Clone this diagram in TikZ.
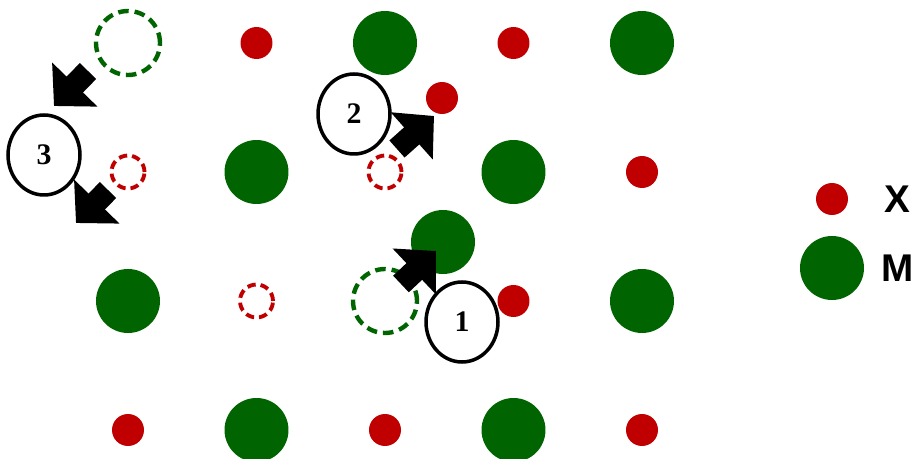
\documentclass[tikz,border=0pt]{standalone}
\usepackage{fontspec}
\setmainfont{Liberation Serif}
\newfontfamily\legendfont{Liberation Sans}
\usetikzlibrary{shapes.geometric,arrows.meta}
\definecolor{AtomGreen}{RGB}{0,100,0}
\definecolor{AtomRed}{RGB}{192,0,0}
\tikzset{
    M/.style={circle, fill=AtomGreen, minimum size=1.28cm, inner sep=0pt},
    X/.style={circle, fill=AtomRed, minimum size=0.64cm, inner sep=0pt},
    Mvac/.style={circle, draw=AtomGreen, line width=2.5pt, dash pattern=on 6pt off 3.4pt, minimum size=1.28cm, inner sep=0pt},
    Xvac/.style={circle, draw=AtomRed, line width=2.2pt, dash pattern=on 4.8pt off 2.8pt, minimum size=0.66cm, inner sep=0pt},
    jump/.style={line width=13pt, -{Triangle[length=17pt,width=35pt]}},
    stepmark/.style={ellipse, draw, line width=2pt, minimum width=1.44cm, minimum height=1.6cm, inner sep=0pt, font=\fontsize{17}{20}\selectfont\bfseries},
    legendtext/.style={anchor=west, inner sep=0pt, font=\legendfont\fontsize{22}{26}\selectfont\bfseries}
}
\begin{document}
\begin{tikzpicture}[x=0.02cm, y=-0.02cm]
    \useasboundingbox (0,0) rectangle (914,459);
    % lattice sites, column/row/kind
    \foreach \i/\j/\kind in {0/0/Mvac, 1/0/X, 2/0/M, 3/0/X, 4/0/M,
                            0/1/Xvac, 1/1/M, 2/1/Xvac, 3/1/M, 4/1/X,
                            0/2/M, 1/2/Xvac, 2/2/Mvac, 3/2/X, 4/2/M,
                            0/3/X, 1/3/M, 2/3/X, 3/3/M, 4/3/X}{
        \node[\kind] (s\i\j) at (128+128.5*\i, 43+129*\j) {};
    }
    % displaced atoms
    \node[X] (xmoved) at (442,98) {};
    \node[M] (mmoved) at (443,242) {};

    \node[stepmark] (n1) at (462,322) {1};
    \node[stepmark] (n2) at (354,114) {2};
    \node[stepmark] (n3) at (44,155) {3};

    \coordinate (j1a) at (401,284); \coordinate (j1b) at (436,251);
    \coordinate (j2a) at (397,149); \coordinate (j2b) at (434,116);
    \coordinate (j3a) at (88,71);   \coordinate (j3b) at (54,106);
    \coordinate (j4a) at (108,190); \coordinate (j4b) at (76,223);
    \draw[jump] (j1a) -- (j1b);
    \draw[jump] (j2a) -- (j2b);
    \draw[jump] (j3a) -- (j3b);
    \draw[jump] (j4a) -- (j4b);

    % legend
    \node[X] (keyx) at (832,199) {};
    \node[M] (keym) at (832,268) {};
    \node[legendtext] (keyxl) at (884,199) {X};
    \node[legendtext] (keyml) at (881,268) {M};
\end{tikzpicture}
\end{document}
